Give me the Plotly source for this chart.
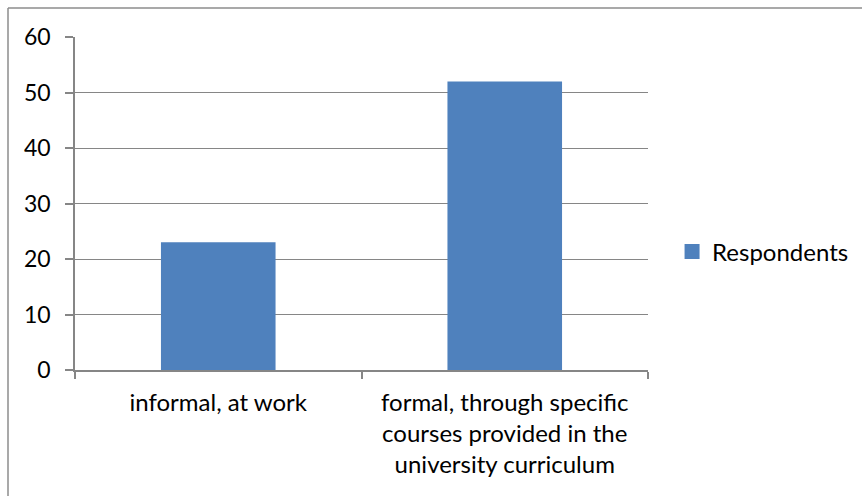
import plotly.graph_objects as go

categories = [
    "informal, at work",
    "formal, through specific<br>courses provided in the<br>university curriculum",
]
respondents = [23, 52]
y_ticks = [0, 10, 20, 30, 40, 50, 60]
bar_color = "#4F81BD"
axis_color = "#868686"

fig = go.Figure()
fig.add_trace(go.Bar(
    x=categories,
    y=respondents,
    name="Respondents",
    marker=dict(color=bar_color, line=dict(width=0)),
    showlegend=False,
))
# legend key with a slightly larger square swatch
fig.add_trace(go.Scatter(
    x=[None], y=[None],
    mode="markers",
    name="Respondents",
    marker=dict(symbol="square", size=15, color=bar_color),
    showlegend=True,
))

W, H = 862, 496
L, R, T, B = 75, 214, 37, 126
pw, ph = W - L - R, H - T - B

# chart frame (left and top edges visible)
fx = (8 - L) / pw
fy = (H - B - 8) / ph
frame = dict(type="line", xref="paper", yref="paper",
             line=dict(color="#8C8C8C", width=1.5))
fig.add_shape(**frame, x0=fx, y0=fy, x1=fx, y1=-1)
fig.add_shape(**frame, x0=fx, y0=fy, x1=2, y1=fy)

fig.update_layout(
    width=W, height=H,
    margin=dict(l=L, r=R, t=T, b=B, autoexpand=False),
    paper_bgcolor="white",
    plot_bgcolor="white",
    font=dict(family="Lato, Open Sans, sans-serif", size=24, color="#000000"),
    bargap=0.6,
    showlegend=True,
    legend=dict(x=1.042, y=(H - B - 252) / ph, xanchor="left", yanchor="middle",
                font=dict(size=24), itemwidth=30,
                bgcolor="rgba(0,0,0,0)"),
)
fig.update_xaxes(
    type="category",
    showline=True, linecolor=axis_color, linewidth=1.5,
    ticks="outside", ticklen=7, tickcolor=axis_color, tickwidth=1.5,
    tickson="boundaries",
    showgrid=False,
    ticklabelstandoff=10,
)
fig.update_yaxes(
    range=[0, 60],
    tickvals=y_ticks,
    showline=True, linecolor=axis_color, linewidth=1.5,
    ticks="outside", ticklen=8, tickcolor=axis_color, tickwidth=1.5,
    showgrid=True, gridcolor=axis_color, gridwidth=1,
    zeroline=False,
    ticklabelstandoff=10,
    tickfont=dict(size=23),
)

fig.write_html("out.html")
